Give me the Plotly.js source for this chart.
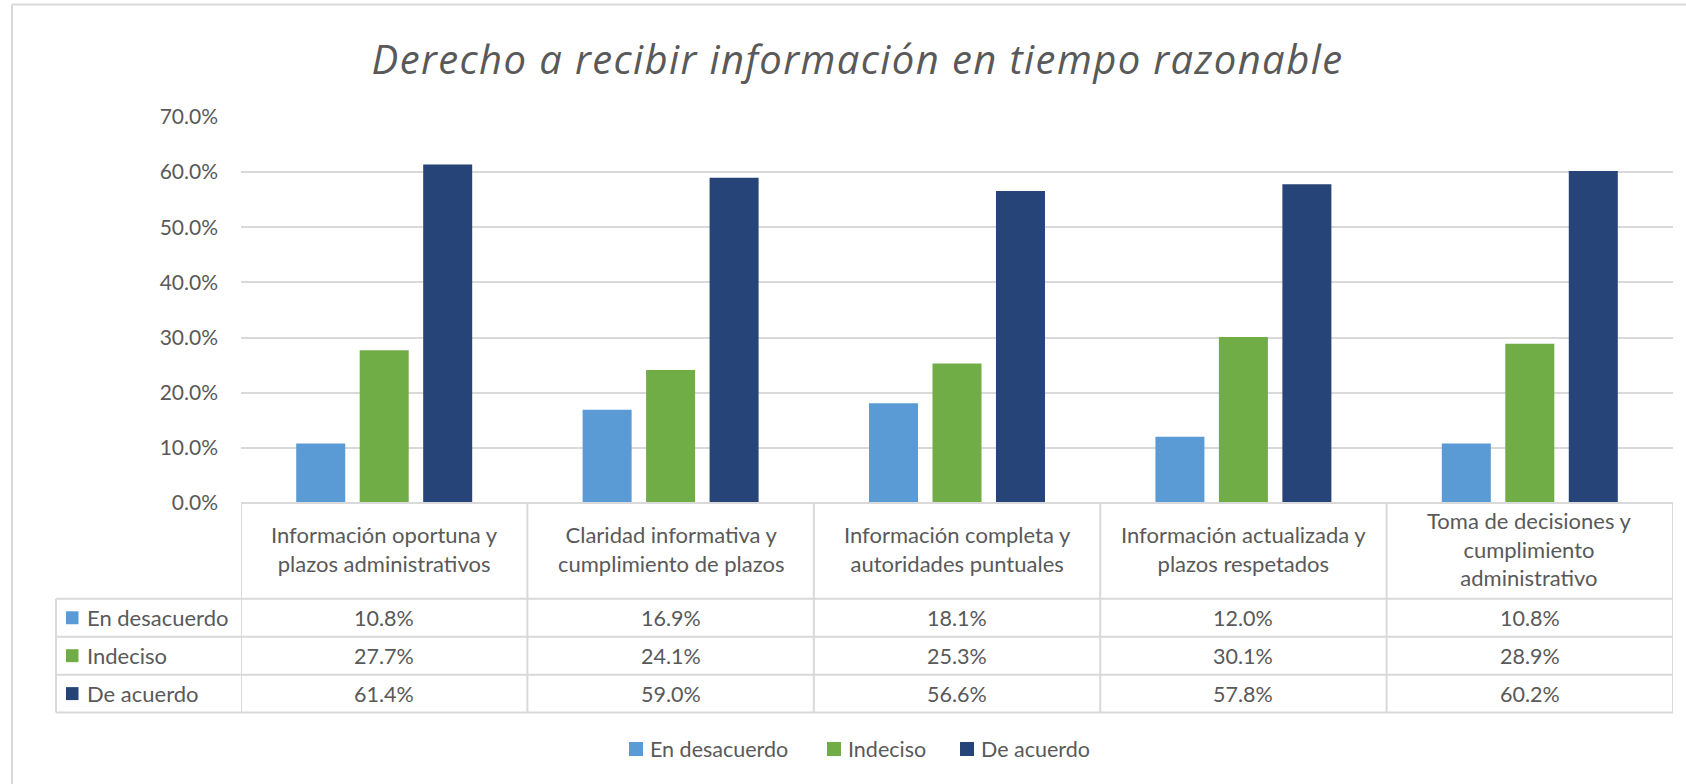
<!DOCTYPE html>
<html>
<head>
<meta charset="utf-8">
<script src="https://cdn.plot.ly/plotly-3.0.1.min.js"></script>
<style>
  html, body { margin: 0; padding: 0; background: #ffffff; }
  #chart { width: 1686px; height: 784px; }
  #chart .gtitle { letter-spacing: 1.4px; }
</style>
</head>
<body>
<div id="chart"></div>
<script>
// ---------- DATA ----------
const categories = [
  'Información oportuna y plazos administrativos',
  'Claridad informativa y cumplimiento de plazos',
  'Información completa y autoridades puntuales',
  'Información actualizada y plazos respetados',
  'Toma de decisiones y cumplimiento administrativo'
];
const categoryLabels = [
  'Información oportuna y<br>plazos administrativos',
  'Claridad informativa y<br>cumplimiento de plazos',
  'Información completa y<br>autoridades puntuales',
  'Información actualizada y<br>plazos respetados',
  'Toma de decisiones y<br>cumplimiento<br>administrativo'
];
const seriesNames = ['En desacuerdo', 'Indeciso', 'De acuerdo'];
const enDesacuerdo = [0.108, 0.169, 0.181, 0.120, 0.108];
const indeciso     = [0.277, 0.241, 0.253, 0.301, 0.289];
const deAcuerdo    = [0.614, 0.590, 0.566, 0.578, 0.602];
const yTickValues  = [0, 0.1, 0.2, 0.3, 0.4, 0.5, 0.6, 0.7];
const titleText = 'Derecho a recibir información en tiempo razonable';

// ---------- STYLE / LAYOUT ----------
const seriesValues = [enDesacuerdo, indeciso, deAcuerdo];
const seriesColors = ['#5B9BD5', '#70AD47', '#264478'];
const W = 1686, H = 784;
const L = 241, R = 1673, T = 116.7, B = 503.5;
const FONT = 'Lato, "Open Sans", sans-serif';
const TITLE_FONT = '"Open Sans", Lato, sans-serif';
const TXT = '#595959';
const LINE = '#d9d9d9';
const fmt = v => (v * 100).toFixed(1) + '%';
const pX = x => (x - L) / (R - L);
const pY = y => (B - y) / (B - T);

const rowLines = [599.5, 637.5, 675.5, 713.5];
const rowCenters = [618.5, 656.5, 694.5];
const headerCenter = 550;
const legendKeyX = [629, 827, 960];
const legendY = 750;

const traces = seriesNames.map((name, s) => ({
  type: 'bar',
  name: name,
  x: categories,
  y: seriesValues[s],
  marker: { color: seriesColors[s], line: { width: 0 } },
  showlegend: false,
  hoverinfo: 'x+y+name'
}));

const shapes = [];
const annotations = [];

// chart outer border
shapes.push({ type: 'line', xref: 'paper', yref: 'paper', x0: pX(12), x1: pX(W + 10), y0: pY(4), y1: pY(4), line: { color: LINE, width: 2 } });
shapes.push({ type: 'line', xref: 'paper', yref: 'paper', x0: pX(12), x1: pX(12), y0: pY(4), y1: pY(H + 10), line: { color: LINE, width: 2 } });

// table top (axis) line
shapes.push({ type: 'line', xref: 'paper', yref: 'paper', x0: 0, x1: 1, y0: 0, y1: 0, line: { color: LINE, width: 2 } });
// row lines
rowLines.forEach(y => shapes.push({ type: 'line', xref: 'paper', yref: 'paper', x0: pX(56), x1: 1, y0: pY(y), y1: pY(y), line: { color: LINE, width: 2 } }));
// column separators
for (let k = 0; k <= categories.length; k++) {
  shapes.push({ type: 'line', xref: 'x', yref: 'paper', x0: k - 0.5, x1: k - 0.5, y0: 0, y1: pY(rowLines[rowLines.length - 1]), line: { color: LINE, width: 2 } });
}
// left legend column border
shapes.push({ type: 'line', xref: 'paper', yref: 'paper', x0: pX(56), x1: pX(56), y0: pY(rowLines[0]), y1: pY(rowLines[rowLines.length - 1]), line: { color: LINE, width: 2 } });

// header labels
categories.forEach((c, i) => annotations.push({
  xref: 'x', yref: 'paper', x: c, y: pY(headerCenter), text: categoryLabels[i],
  showarrow: false, xanchor: 'center', yanchor: 'middle', align: 'center',
  font: { family: FONT, size: 22, color: TXT }
}));

// table rows
seriesNames.forEach((name, s) => {
  const yc = rowCenters[s];
  shapes.push({ type: 'rect', xref: 'paper', yref: 'paper', x0: pX(66), x1: pX(78.5), y0: pY(yc - 6.5), y1: pY(yc + 6.5), fillcolor: seriesColors[s], line: { width: 0 } });
  annotations.push({ xref: 'paper', yref: 'paper', x: pX(85), y: pY(yc), text: name, showarrow: false, xanchor: 'left', yanchor: 'middle', font: { family: FONT, size: 22, color: TXT } });
  seriesValues[s].forEach((v, i) => annotations.push({
    xref: 'x', yref: 'paper', x: categories[i], y: pY(yc), text: fmt(v),
    showarrow: false, xanchor: 'center', yanchor: 'middle',
    font: { family: FONT, size: 21.5, color: TXT }
  }));
});

// bottom legend
seriesNames.forEach((name, s) => {
  const kx = legendKeyX[s];
  shapes.push({ type: 'rect', xref: 'paper', yref: 'paper', x0: pX(kx), x1: pX(kx + 14), y0: pY(legendY - 7), y1: pY(legendY + 7), fillcolor: seriesColors[s], line: { width: 0 } });
  annotations.push({ xref: 'paper', yref: 'paper', x: pX(kx + 19), y: pY(legendY), text: name, showarrow: false, xanchor: 'left', yanchor: 'middle', font: { family: FONT, size: 21.5, color: TXT } });
});

const layout = {
  width: W, height: H,
  margin: { l: L, r: W - R, t: T, b: H - B, pad: 0 },
  paper_bgcolor: '#ffffff', plot_bgcolor: '#ffffff',
  title: {
    text: titleText,
    x: (857.5 - L) / (R - L), xref: 'paper', xanchor: 'center',
    y: 1 - 60 / H, yref: 'container', yanchor: 'middle',
    font: { family: TITLE_FONT, size: 40, color: TXT, style: 'italic' }
  },
  barmode: 'group', bargap: 0.335, bargroupgap: 0.228,
  xaxis: {
    type: 'category', range: [-0.5, categories.length - 0.5],
    showticklabels: false, showgrid: false, zeroline: false, showline: false, ticks: '', fixedrange: true
  },
  yaxis: {
    range: [0, 0.7], tickvals: yTickValues, ticktext: yTickValues.map(fmt),
    showgrid: true, gridcolor: LINE, gridwidth: 2, zeroline: false, showline: false,
    ticks: '', ticklabelstandoff: 22,
    tickfont: { family: FONT, size: 21, color: TXT }, fixedrange: true
  },
  shapes: shapes,
  annotations: annotations,
  showlegend: false
};

Plotly.newPlot('chart', traces, layout, { displayModeBar: false, staticPlot: true });
</script>
</body>
</html>
